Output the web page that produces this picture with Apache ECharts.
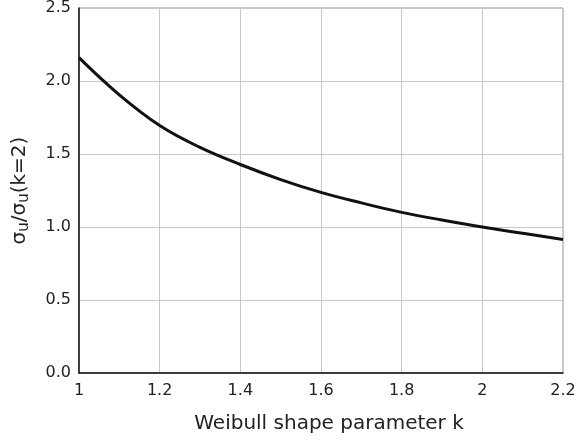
<!DOCTYPE html>
<html>
<head>
<meta charset="utf-8">
<script src="https://cdn.jsdelivr.net/npm/echarts@6/dist/echarts.min.js"></script>
<style>
  html, body { margin: 0; padding: 0; background: #fff; }
  #chart { width: 582px; height: 441px; }
</style>
</head>
<body>
<div id="chart"></div>
<script>
// Weibull shape parameter k
const shapeK = [1.0, 1.1, 1.2, 1.3, 1.4, 1.5, 1.6, 1.7, 1.8, 1.9, 2.0, 2.1, 2.2];
// standard deviation ratio relative to k = 2
const sigmaRatio = [2.16, 1.905, 1.695, 1.545, 1.428, 1.325, 1.237, 1.165, 1.100, 1.048, 1.000, 0.957, 0.915];
const xTicks = [1, 1.2, 1.4, 1.6, 1.8, 2, 2.2];
const yTicks = ['0.0', '0.5', '1.0', '1.5', '2.0', '2.5'];

const chart = echarts.init(document.getElementById('chart'), null, { renderer: 'canvas' });
const font = 'DejaVu Sans, Liberation Sans, Arial, sans-serif';

chart.setOption({
  animation: false,
  grid: {
    left: 79, right: 19, top: 8, bottom: 68,
    outerBoundsMode: 'none', containLabel: false,
    show: true, borderColor: '#999', borderWidth: 1
  },
  xAxis: {
    type: 'value', min: 1, max: 2.2, interval: 0.2,
    name: 'Weibull shape parameter k', nameLocation: 'middle', nameGap: 41,
    nameTextStyle: { fontFamily: font, fontSize: 20, color: '#222', padding: [0, 0, 0, 16] },
    axisLine: { onZero: false, lineStyle: { color: '#111', width: 1.5 } },
    axisTick: { show: false },
    axisLabel: {
      fontFamily: font, fontSize: 16, color: '#222', margin: 10,
      formatter: v => { const s = xTicks.find(t => Math.abs(t - v) < 1e-6); return s === undefined ? '' : String(s); }
    },
    splitLine: { show: true, lineStyle: { color: '#c8c8c8', width: 1 } }
  },
  yAxis: {
    type: 'value', min: 0, max: 2.5, interval: 0.5,
    name: '{n|σ}{s|u}{n|/σ}{s|u}{n|(k=2)}', nameLocation: 'middle', nameGap: 47, nameRotate: 90,
    nameTextStyle: {
      fontFamily: font, fontSize: 20, color: '#222',
      rich: {
        n: { fontFamily: font, fontSize: 20, color: '#222' },
        s: { fontFamily: font, fontSize: 15, color: '#222', verticalAlign: 'bottom', padding: [10, 0, 0, 0] }
      }
    },
    axisLine: { show: true, onZero: false, lineStyle: { color: '#111', width: 1.5 } },
    axisTick: { show: false },
    axisLabel: {
      fontFamily: font, fontSize: 16, color: '#222', margin: 8,
      formatter: v => yTicks[Math.round(v / 0.5)]
    },
    splitLine: { show: true, lineStyle: { color: '#c8c8c8', width: 1 } }
  },
  series: [{
    type: 'line',
    data: shapeK.map((k, i) => [k, sigmaRatio[i]]),
    smooth: 0.4,
    showSymbol: false,
    lineStyle: { color: '#111', width: 3 }
  }]
});
</script>
</body>
</html>
